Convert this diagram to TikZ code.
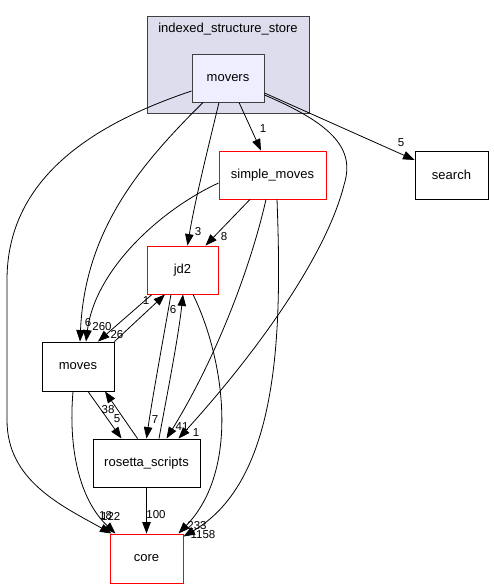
\documentclass[tikz,border=0pt]{standalone}
\usepackage{fontspec}
\setmainfont{Liberation Sans}
\usetikzlibrary{arrows.meta}
\definecolor{clusterfill}{HTML}{DDDDEE}
\definecolor{moversfill}{HTML}{EEEEFF}
\definecolor{frame}{HTML}{404040}
\tikzset{
  box/.style={draw, line width=0.9pt, inner sep=0pt, font=\fontsize{13}{15}\selectfont},
  redbox/.style={box, draw=red, fill=white},
  blackbox/.style={box, draw=black, fill=white},
  dep/.style={line width=0.8pt, -{Triangle[length=11.5pt,width=8.5pt]}},
  lbl/.style={inner sep=0pt, font=\fontsize{11.5}{13}\selectfont},
}
\begin{document}
\begin{tikzpicture}[x=1pt,y=-1pt]
\useasboundingbox (0,0) rectangle (493,588);
% cluster
\node[draw=frame, fill=clusterfill, line width=0.9pt, minimum width=162pt, minimum height=97pt, inner sep=0pt] (cluster) at (228,64.5) {};
\node[inner sep=0pt, font=\fontsize{13}{15}\selectfont] (ctitle) at (228,29) {indexed\_structure\_store};
% nodes
\node[box, draw=frame, fill=moversfill, minimum width=72pt, minimum height=48pt] (movers) at (228,78) {movers};
\node[redbox, minimum width=107pt, minimum height=48pt] (simple) at (272.5,175) {simple\_moves};
\node[blackbox, minimum width=73pt, minimum height=48pt] (search) at (451.5,175) {search};
\node[redbox, minimum width=71pt, minimum height=48pt] (jd2) at (182.5,270) {jd2};
\node[blackbox, minimum width=72pt, minimum height=49pt] (moves) at (78,366.5) {moves};
\node[blackbox, minimum width=107pt, minimum height=48pt] (rosetta) at (146.5,463) {rosetta\_scripts};
\node[redbox, minimum width=73pt, minimum height=49pt] (core) at (146.5,558.5) {core};

% edges from movers
\draw[dep] ([yshift=-13pt]movers.west) .. controls (90,125) and (7,180) .. (7,280) -- (7,420) .. controls (7,480) and (60,505) .. ([xshift=-35pt]core.north);
\draw[dep] ([xshift=-25pt]movers.south) .. controls (140,165) and (85,230) .. ([xshift=2pt]moves.north);
\draw[dep] ([xshift=-9pt]movers.south) .. controls (210,140) and (195,200) .. ([xshift=5pt]jd2.north);
\draw[dep] ([xshift=11pt]movers.south) -- ([xshift=-11.5pt]simple.north);
\draw[dep] ([yshift=-15pt]movers.east) -- ([yshift=15pt]search.west);
\draw[dep] ([yshift=-17pt]movers.east) .. controls (335,125) and (355,150) .. (344,185) .. controls (325,260) and (250,360) .. ([xshift=32pt]rosetta.north);
% edges from simple_moves
\draw[dep] ([xshift=-22.5pt]simple.south) -- ([xshift=23pt]jd2.north);
\draw[dep] ([yshift=-8pt]simple.west) .. controls (160,210) and (95,270) .. ([xshift=8pt]moves.north);
\draw[dep] ([xshift=-6.5pt]simple.south) .. controls (250,270) and (215,360) .. ([xshift=20pt]rosetta.north);
\draw[dep] ([xshift=4.5pt]simple.south) .. controls (282,330) and (280,480) .. ([yshift=-3pt]core.north east);
% jd2 / moves / rosetta
\draw[dep] ([xshift=-30.5pt]jd2.south) -- ([xshift=20pt]moves.north);
\draw[dep] (moves.north east) -- ([xshift=-17.5pt]jd2.south);
\draw[dep] ([xshift=-11.5pt]jd2.south) .. controls (163,340) and (152,400) .. (rosetta.north);
\draw[dep] ([xshift=12.5pt]rosetta.north) .. controls (166,400) and (178,340) .. ([xshift=0.5pt]jd2.south);
\draw[dep] ([xshift=10.5pt]jd2.south) .. controls (225,360) and (240,470) .. ([xshift=32pt]core.north);
\draw[dep] ([xshift=10pt]moves.south) -- ([xshift=-25pt]rosetta.north);
\draw[dep] ([xshift=-9pt]rosetta.north) -- ([xshift=27pt]moves.south);
\draw[dep] ([xshift=-5pt]moves.south) .. controls (68,450) and (80,500) .. ([xshift=-31pt]core.north);
\draw[dep] (rosetta.south) -- (core.north);

% labels
\node[lbl] (l1) at (263,129) {1};
\node[lbl] (l2) at (401,143) {5};
\node[lbl] (l3) at (198,232) {3};
\node[lbl] (l4) at (224,237) {8};
\node[lbl] (l5) at (146,301) {1};
\node[lbl] (l6) at (173,310) {6};
\node[lbl] (l7) at (88,323) {6};
\node[lbl] (l8) at (102,327) {260};
\node[lbl] (l9) at (117,335) {26};
\node[lbl] (l10) at (108,410) {38};
\node[lbl] (l11) at (117,419) {5};
\node[lbl] (l12) at (155,420) {7};
\node[lbl] (l13) at (182,427) {41};
\node[lbl] (l14) at (196,433) {1};
\node[lbl, anchor=west] (l15) at (99,516) {18};
\node[lbl, anchor=west] (l16) at (101,516) {122};
\node[lbl] (l17) at (156,515) {100};
\node[lbl] (l18) at (197,526) {233};
\node[lbl] (l19) at (203,535) {1158};
\end{tikzpicture}
\end{document}
